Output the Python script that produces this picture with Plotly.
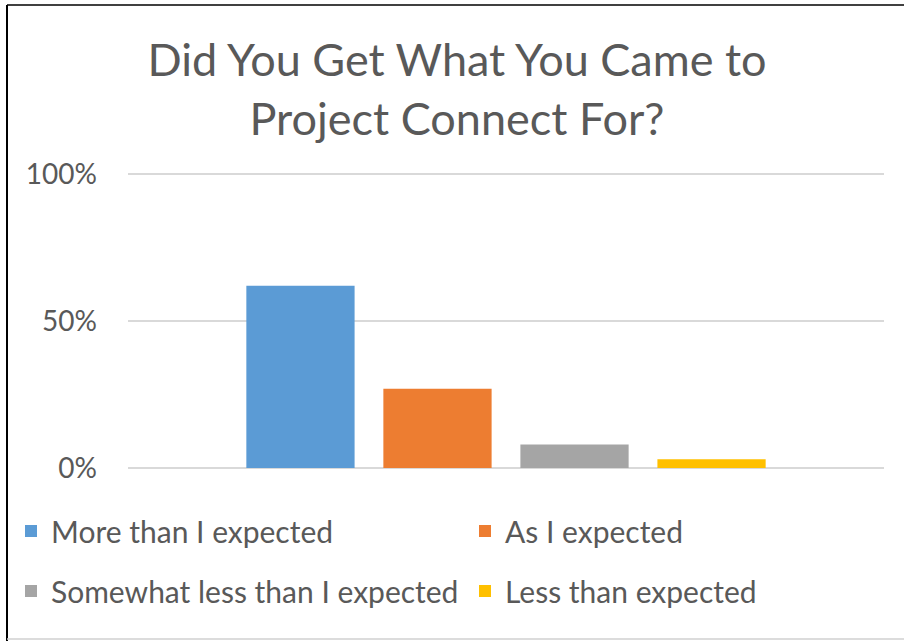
import plotly.graph_objects as go

series_names = ["More than I expected", "As I expected",
                "Somewhat less than I expected", "Less than expected"]
series_values = [0.62, 0.27, 0.08, 0.03]
series_colors = ["#5B9BD5", "#ED7D31", "#A5A5A5", "#FFC000"]
category = ["Response"]
tick_vals = [0, 0.5, 1.0]
tick_text = ["0%", "50%", "100%"]

W, H = 904, 641
L, R, T, B = 128, 20, 173, 173
pw, ph = W - L - R, H - T - B

def px_x(x):
    return (x - L) / pw

def px_y(y):
    return (H - B - y) / ph

FONT = "Lato"
TXT = "#595959"

legend_ids = ["legend", "legend2", "legend3", "legend4"]
legend_pos = [(11, 531), (465, 531), (11, 591), (465, 591)]

fig = go.Figure()
for name, val, col, lg in zip(series_names, series_values, series_colors, legend_ids):
    fig.add_trace(go.Bar(x=category, y=[val], name=name, marker_color=col,
                         marker_line_width=0, legend=lg))

leg_common = dict(orientation="h",
                  font=dict(family=FONT, size=30, color=TXT),
                  bgcolor="rgba(0,0,0,0)", xanchor="left", yanchor="middle",
                  itemclick=False, itemdoubleclick=False)

legend_layout = {}
for lg, (lx, ly) in zip(legend_ids, legend_pos):
    legend_layout[lg] = dict(x=px_x(lx), y=px_y(ly), **leg_common)

fig.update_layout(
    width=W, height=H,
    margin=dict(l=L, r=R, t=T, b=B, autoexpand=False),
    paper_bgcolor="white", plot_bgcolor="white",
    barmode="group", bargap=0.275, bargroupgap=0.21,
    title=dict(text="Did You Get What You Came to<br>Project Connect For?",
               font=dict(family=FONT, size=45, color=TXT),
               x=px_x(457), xref="paper", xanchor="center",
               y=1 - 76 / H, yref="container", yanchor="top"),
    xaxis=dict(showticklabels=False, showgrid=False, zeroline=False,
               showline=False, ticks=""),
    yaxis=dict(range=[0, 1.004], tickvals=tick_vals, ticktext=tick_text,
               showgrid=True, gridcolor="#D9D9D9", gridwidth=1.5,
               zeroline=True, zerolinecolor="#D9D9D9", zerolinewidth=1.5,
               showline=False, ticks="", ticklabelstandoff=30,
               tickfont=dict(family=FONT, size=28, color=TXT)),
    showlegend=True,
    hovermode=False,
    shapes=[
        dict(type="line", xref="paper", yref="paper", x0=px_x(7), x1=px_x(904),
             y0=px_y(5), y1=px_y(5), line=dict(color="black", width=1.5)),
        dict(type="line", xref="paper", yref="paper", x0=px_x(7), x1=px_x(7),
             y0=px_y(5), y1=px_y(641), line=dict(color="black", width=2)),
        dict(type="line", xref="paper", yref="paper", x0=px_x(7), x1=px_x(904),
             y0=px_y(639), y1=px_y(639), line=dict(color="#D0D0D0", width=1.5)),
    ],
    **legend_layout,
)

fig.write_html("out.html", config={"displayModeBar": False},
               post_script="document.body.style.margin='0';document.body.style.overflow='hidden';")
